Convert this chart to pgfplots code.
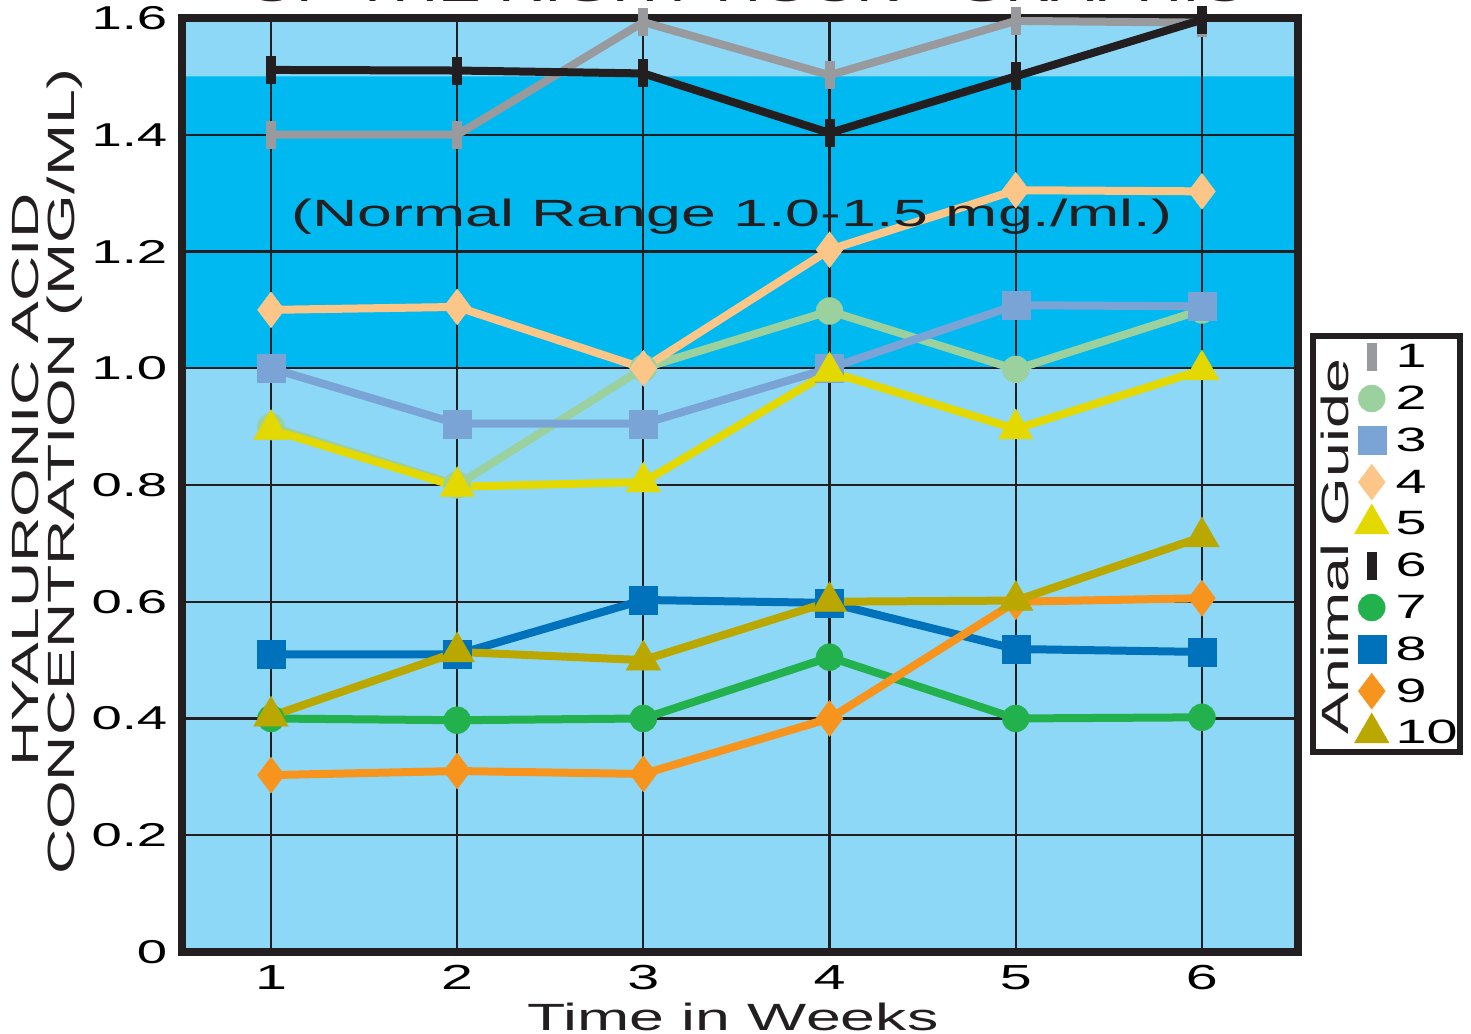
\documentclass[border=0pt]{standalone}
\usepackage{pgfplots}
\pgfplotsset{compat=1.18}
\usepackage{fontspec}
\setmainfont{Liberation Sans}[FakeStretch=1.65]
\setsansfont{Liberation Sans}[FakeStretch=1.65]
\definecolor{bglight}{HTML}{8DD8F6}
\definecolor{bgband}{HTML}{00B9F1}
\definecolor{frame}{HTML}{231F20}
\definecolor{c1}{HTML}{999A9E}
\definecolor{c2}{HTML}{9BD19E}
\definecolor{c3}{HTML}{7BA4D6}
\definecolor{c4}{HTML}{FDC689}
\definecolor{c5}{HTML}{E3D800}
\definecolor{c6}{HTML}{231F20}
\definecolor{c7}{HTML}{22B14C}
\definecolor{c8}{HTML}{0072BC}
\definecolor{c9}{HTML}{F7941D}
\definecolor{c10}{HTML}{BAA800}
\begin{document}
\begin{tikzpicture}
\begin{axis}[
  at={(0,0)}, anchor=south west,
  scale only axis, width=111.6mm, height=93.4mm,
  set layers=standard,
  xmin=0.522, xmax=6.516, ymin=0, ymax=1.6,
  xtick={1,2,3,4,5,6}, xticklabels={1,2,3,4,5,6},
  ytick={0,0.2,0.4,0.6,0.8,1.0,1.2,1.4,1.6},
  yticklabels={0,0.2,0.4,0.6,0.8,1.0,1.2,1.4,1.6},
  major tick length=0pt,
  grid=major,
  major grid style={draw=frame, line width=0.22mm},
  axis line style={draw=frame, line width=0.75mm},
  axis background/.style={fill=bglight},
  yticklabel style={font=\fontsize{9.4}{10}\selectfont, anchor=east, inner sep=0pt, xshift=-1.4mm},
  xticklabel style={font=\fontsize{9.9}{10}\selectfont, anchor=north, inner sep=0pt, yshift=-1.3mm},
  every axis plot/.append style={line width=0.8mm},
  legend image code/.code={\path (0cm,0cm) (0.3cm,0cm); \draw[#1, only marks] plot coordinates {(0.15cm,0cm)};},
  legend style={draw=none, fill=none, inner sep=0pt,
    at={(rel axis cs:1.0484,0.6595)}, anchor=north west,
    font=\fontsize{9.6}{10}\selectfont,
    nodes={text height=2.6mm, text depth=0.4mm, inner sep=0.5mm},
    row sep=0.18mm},
  legend cell align=left,
]
\addplot[fill=bgband, draw=none, forget plot, on layer=axis background]
  coordinates {(0.522,1.0) (6.516,1.0) (6.516,1.5) (0.522,1.5) (0.522,1.0)};
% 1 gray
\addplot[c1, mark=|, mark size=1.4mm, mark options={line width=1mm}]
  coordinates {(1,1.40) (2,1.40) (3,1.593) (4,1.502) (5,1.595) (6,1.592)};
% 2 light green
\addplot[c2, mark=*, mark size=1.35mm, mark options={line width=0.1pt}]
  coordinates {(1,0.90) (2,0.80) (3,1.00) (4,1.098) (5,0.998) (6,1.10)};
% 3 blue-gray
\addplot[c3, mark=square*, mark size=1.4mm, mark options={line width=0.1pt}]
  coordinates {(1,1.00) (2,0.905) (3,0.905) (4,1.00) (5,1.108) (6,1.106)};
% 4 peach
\addplot[c4, mark=diamond*, mark size=1.8mm, mark options={line width=0.1pt}]
  coordinates {(1,1.10) (2,1.105) (3,1.00) (4,1.203) (5,1.305) (6,1.303)};
% 5 yellow
\addplot[c5, mark=triangle*, mark size=2mm, mark options={line width=0.1pt}]
  coordinates {(1,0.895) (2,0.797) (3,0.805) (4,0.994) (5,0.896) (6,0.997)};
% 6 black
\addplot[c6, mark=|, mark size=1.4mm, mark options={line width=1mm}]
  coordinates {(1,1.511) (2,1.510) (3,1.505) (4,1.403) (5,1.500) (6,1.597)};
% 7 green
\addplot[c7, mark=*, mark size=1.35mm, mark options={line width=0.1pt}]
  coordinates {(1,0.40) (2,0.397) (3,0.40) (4,0.505) (5,0.40) (6,0.402)};
% 8 blue
\addplot[c8, mark=square*, mark size=1.4mm, mark options={line width=0.1pt}]
  coordinates {(1,0.510) (2,0.510) (3,0.603) (4,0.598) (5,0.519) (6,0.514)};
% 9 orange
\addplot[c9, mark=diamond*, mark size=1.8mm, mark options={line width=0.1pt}]
  coordinates {(1,0.303) (2,0.310) (3,0.305) (4,0.40) (5,0.60) (6,0.606)};
% 10 olive
\addplot[c10, mark=triangle*, mark size=2mm, mark options={line width=0.1pt}]
  coordinates {(1,0.404) (2,0.514) (3,0.50) (4,0.60) (5,0.602) (6,0.711)};
\legend{1,2,3,4,5,6,7,8,9,10}
\node[font=\fontsize{10.8}{11}\selectfont, text=frame] at (axis cs:3.476,1.259) {(Normal Range 1.0-1.5 mg./ml.)};
\end{axis}
\node[anchor=base, font=\fontsize{11}{11}\selectfont, text=frame] at (56.5mm,95.0mm) {OF THE RIGHT HOCK - GRAPHIC};
\node[anchor=base, rotate=90, font=\fontsize{10.8}{11}\selectfont, text=frame] at (-14.3mm,47.2mm) {HYALURONIC ACID};
\node[anchor=base, rotate=90, font=\fontsize{10.8}{11}\selectfont, text=frame] at (-10.7mm,48.0mm) {CONCENTRATION (MG/ML)};
\node[anchor=base, font=\fontsize{10.8}{11}\selectfont, text=frame] at (55.1mm,-7.9mm) {Time in Weeks};
\draw[frame, line width=0.6mm] (113.1mm,20.0mm) rectangle (127.8mm,61.6mm);
\node[anchor=base, rotate=90, font=\fontsize{10.8}{11}\selectfont, text=frame] at (116.6mm,40.5mm) {Animal Guide};
\pgfresetboundingbox
\useasboundingbox (-18.2mm,-8.2mm) rectangle (128.9mm,95.2mm);
\end{tikzpicture}
\end{document}
